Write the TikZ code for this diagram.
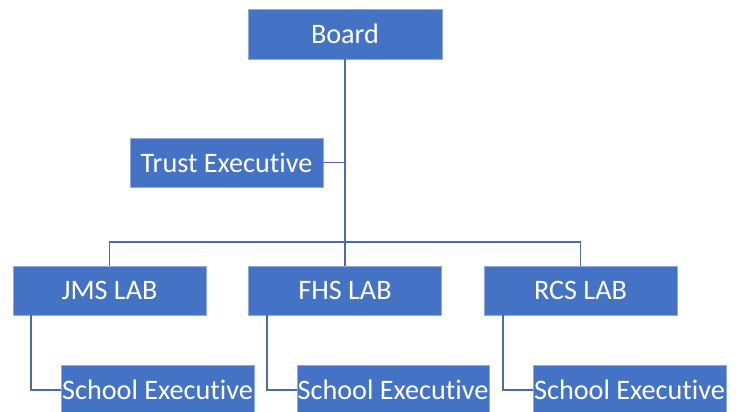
\documentclass[tikz,border=0pt]{standalone}
\usepackage{fontspec}
\setmainfont[Ligatures=NoCommon]{Carlito}
\definecolor{boxblue}{HTML}{4472C4}
\definecolor{boxedge}{HTML}{8FAADC}
\definecolor{linkblue}{HTML}{4A6CAA}
\begin{document}
\begin{tikzpicture}[x=1pt,y=-1pt,
  orgbox/.style={fill=boxblue,draw=boxedge,line width=0.6pt,text=white,
    minimum width=194pt,minimum height=50pt,inner sep=0pt,
    font=\fontsize{28.2}{33}\selectfont},
  link/.style={draw=linkblue,line width=1.6pt}]
\useasboundingbox (0,0) rectangle (740,412);
\begin{scope}
\clip (0,0) rectangle (740,412);
\node[orgbox] (board) at (345,34) {Board};
\node[orgbox,minimum width=193pt,minimum height=49pt] (trust) at (226.5,162.5) {Trust Executive};
\node[orgbox,minimum width=193pt,minimum height=49pt] (jms) at (109.5,290.5) {JMS LAB};
\node[orgbox,minimum width=193pt,minimum height=49pt] (fhs) at (345,290.5) {FHS LAB};
\node[orgbox,minimum width=193pt,minimum height=49pt] (rcs) at (580.5,290.5) {RCS LAB};
\node[orgbox,minimum width=193pt] (se1) at (157.5,390) {School Executive};
\node[orgbox,minimum width=192pt] (se2) at (393,390) {School Executive};
\node[orgbox,minimum width=193pt] (se3) at (629.5,390) {School Executive};
\coordinate (bus) at (345,242);
\draw[link] (board.south) -- (fhs.north);
\draw[link] (trust.east) -- (trust.east -| board.south);
\draw[link] (jms.north) |- (bus) -| (rcs.north);
\draw[link] ([xshift=-78.5pt]jms.south) |- (se1.west);
\draw[link] ([xshift=-78pt]fhs.south) |- (se2.west);
\draw[link] ([xshift=-77.5pt]rcs.south) |- (se3.west);
\end{scope}
\end{tikzpicture}
\end{document}
